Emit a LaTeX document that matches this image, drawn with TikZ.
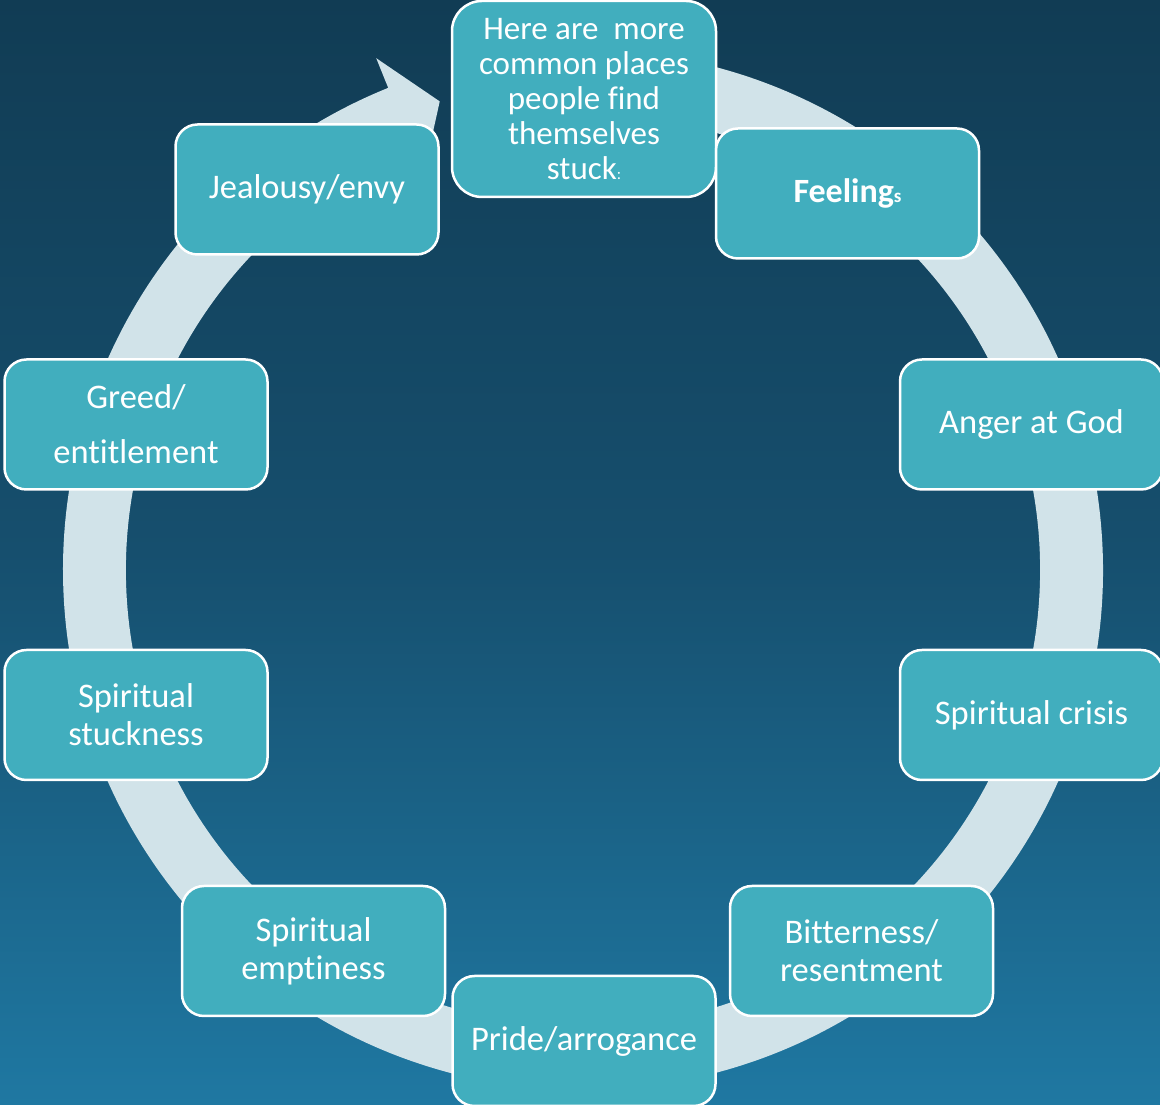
\documentclass[tikz,border=0pt]{standalone}
\usepackage{fontspec}
\setmainfont{Carlito}[Ligatures=NoCommon]
\usetikzlibrary{calc}
\definecolor{bgtop}{HTML}{113C54}
\definecolor{bgmid}{HTML}{164F6E}
\definecolor{bgbot}{HTML}{1F78A2}
\definecolor{boxfill}{HTML}{41AEBE}
\definecolor{ringcol}{HTML}{D1E3E9}
\begin{document}
\begin{tikzpicture}[x=1pt,y=1pt,
  item/.style={draw=white, line width=2.5pt, fill=boxfill, rounded corners=22pt,
    minimum width=263pt, minimum height=130pt, align=center, text=white,
    font=\fontsize{34.5}{38}\selectfont, inner sep=0pt}]
\useasboundingbox (0,0) rectangle (1160,1105);
\shade[top color=bgtop, bottom color=bgbot, middle color=bgmid] (0,0) rectangle (1160,1105);
\coordinate (C) at (583,535);
\fill[ringcol] ($(C)+(95:520)$) arc[start angle=95, end angle=-248, radius=520]
  -- ($(C)+(-248:552)$) -- ($(C)+(-253:490)$) -- ($(C)+(-248:426)$)
  -- ($(C)+(-248:457)$) arc[start angle=-248, end angle=95, radius=457] -- cycle;
\node[item, rounded corners=30pt, minimum width=264pt, minimum height=196pt, font=\fontsize{33}{35}\selectfont] (top) at (584,1006)
  {Here are\ \ more\\common places\\people find\\themselves\\stuck{\fontsize{16}{16}\selectfont :}};
\node[item] (feel) at (847.5,911.5) {{\fontsize{34}{38}\selectfont\bfseries Feeling}{\fontsize{19}{19}\selectfont\bfseries s}};
\node[item] (anger) at (1031.5,680.5) {Anger at God};
\node[item] (crisis) at (1031.5,390) {Spiritual crisis};
\node[item] (bitter) at (861.5,154) {Bitterness/\\resentment};
\node[item] (pride) at (584,64) {Pride/arrogance};
\node[item] (empty) at (313.5,154) {Spiritual\\emptiness};
\node[item] (stuck) at (136,390) {Spiritual\\stuckness};
\node[item] (greed) at (136,680.5) {Greed/\\[17pt]entitlement};
\node[item] (jeal) at (307,915.5) {Jealousy/envy};
\end{tikzpicture}
\end{document}
